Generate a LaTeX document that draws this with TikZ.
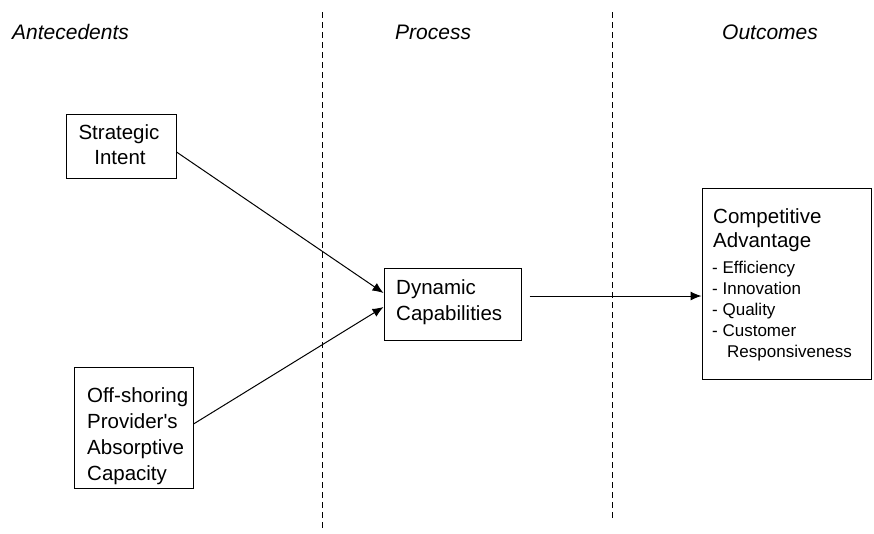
\documentclass[tikz,border=0pt]{standalone}
\usepackage{fontspec}
\setmainfont{Liberation Sans}
\usetikzlibrary{arrows.meta}
\tikzset{
  box/.style={draw, line width=1pt, inner sep=0pt},
  lbl/.style={anchor=base west, inner sep=0pt, font=\fontsize{20.5}{24}\selectfont},
  lblc/.style={anchor=base, inner sep=0pt, font=\fontsize{20.5}{24}\selectfont},
  item/.style={anchor=base west, inner sep=0pt, font=\fontsize{17}{20}\selectfont},
  head/.style={anchor=base west, inner sep=0pt, font=\fontsize{21}{25}\selectfont\itshape},
  divider/.style={line width=1pt, dash pattern=on 6pt off 4pt},
  link/.style={line width=1pt, -{Latex[length=11pt,width=9pt]}},
}
\begin{document}
\begin{tikzpicture}[x=1pt,y=-1pt]
\useasboundingbox[fill=white] (0,0) rectangle (874,533);

% column headings
\node[head] (hA) at (12,39) {Antecedents};
\node[head] (hP) at (395,39) {Process};
\node[head] (hO) at (722,39) {Outcomes};

% column dividers
\coordinate (d1t) at (322,12);
\coordinate (d1b) at (322,531);
\coordinate (d2t) at (612,12);
\coordinate (d2b) at (612,521);
\draw[divider] (d1t) -- (d1b);
\draw[divider] (d2t) -- (d2b);

% boxes
\node[box, minimum width=110pt, minimum height=64pt] (si) at (121,146) {};
\node[box, minimum width=119pt, minimum height=121pt] (osp) at (133.5,427.5) {};
\node[box, minimum width=137pt, minimum height=72pt] (dc) at (452.5,304) {};
\node[box, minimum width=169pt, minimum height=191pt] (ca) at (786.5,283.5) {};

% box texts
\node[lblc] (t1) at (119,139) {Strategic};
\node[lblc] (t2) at (120,164) {Intent};

\node[lbl] (t3) at (87,402) {Off-shoring};
\node[lbl] (t4) at (87,428) {Provider\textquotesingle s};
\node[lbl] (t5) at (87,454) {Absorptive};
\node[lbl] (t6) at (87,480) {Capacity};

\node[lbl] (t7) at (396,294) {Dynamic};
\node[lbl] (t8) at (396,320) {Capabilities};

\node[lbl] (t9) at (713,223) {Competitive};
\node[lbl] (t10) at (713,247) {Advantage};
\node[item] (t11) at (712,273) {- Efficiency};
\node[item] (t12) at (712,294) {- Innovation};
\node[item] (t13) at (712,315) {- Quality};
\node[item] (t14) at (712,336) {- Customer};
\node[item] (t15) at (727,357) {Responsiveness};

% connectors
\draw[link] (si.east |- 0,152) -- (dc.west |- 0,293);
\draw[link] (osp.east |- 0,424) -- (dc.west |- 0,307);
\draw[link] ([xshift=8pt]dc.east |- 0,296) -- (ca.west |- 0,296);
\end{tikzpicture}
\end{document}
